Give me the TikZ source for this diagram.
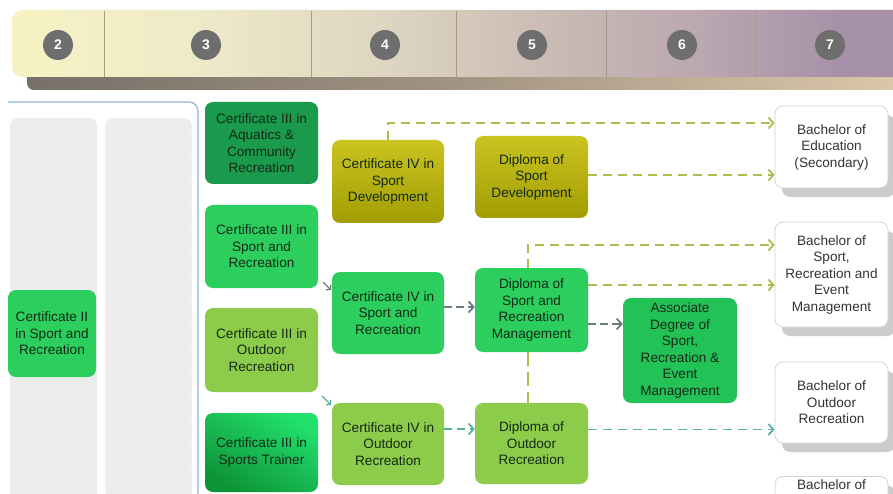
\documentclass[tikz,border=0pt]{standalone}
\usepackage{fontspec}
\setmainfont{Liberation Sans}
\usetikzlibrary{arrows.meta,shadows,patterns}
\definecolor{hA}{HTML}{F6F2C4}
\definecolor{hB}{HTML}{EEE9C8}
\definecolor{hC}{HTML}{DDD5C0}
\definecolor{hD}{HTML}{CBBCB5}
\definecolor{hE}{HTML}{BBA8B0}
\definecolor{hF}{HTML}{A690A8}
\definecolor{sA}{HTML}{767068}
\definecolor{sB}{HTML}{A39483}
\definecolor{sC}{HTML}{DCC8AA}
\definecolor{gA}{HTML}{1A9A4C}
\definecolor{gM}{HTML}{2CCF5E}
\definecolor{gL}{HTML}{8DCB4A}
\definecolor{oT}{HTML}{CAC420}
\definecolor{oB}{HTML}{A29D04}
\definecolor{gAs}{HTML}{22C256}
\definecolor{tT}{HTML}{22E06C}
\definecolor{tB}{HTML}{0E9438}
\definecolor{txt}{HTML}{142A18}
\definecolor{btxt}{HTML}{333333}
\definecolor{bdraw}{HTML}{D4D4D4}
\definecolor{dashO}{HTML}{ADBE4E}
\definecolor{dashG}{HTML}{6A7C7C}
\definecolor{dashT}{HTML}{58B2A2}
\definecolor{frame}{HTML}{8CB6D9}
\definecolor{colg}{HTML}{ECECEC}
\definecolor{divc}{HTML}{A49C84}
\definecolor{numc}{HTML}{6E6E6E}
\pgfdeclarehorizontalshading{hdrshade}{100bp}{color(0bp)=(hA); color(26bp)=(hA); color(36bp)=(hB); color(46bp)=(hC); color(54.5bp)=(hD); color(63bp)=(hE); color(71.5bp)=(hF); color(100bp)=(hF)}
\pgfdeclarehorizontalshading{bandshade}{100bp}{color(0bp)=(sA); color(25bp)=(sA); color(50bp)=(sB); color(75bp)=(sC); color(100bp)=(sC)}
\begin{document}
\begin{tikzpicture}[x=1pt,y=-1pt,
  box/.style={rounded corners=8pt, align=center, text=txt, inner sep=2pt,
    font=\fontsize{13.6}{16.5}\selectfont, minimum width=113pt},
  bach/.style={box, fill=white, draw=bdraw, line width=0.8pt, text=btxt,
    drop shadow={shadow xshift=7pt, shadow yshift=-9pt, fill=black!20, opacity=1}},
  numcirc/.style={circle, fill=numc, text=white, minimum size=30pt, inner sep=0pt,
    font=\fontsize{14}{16}\selectfont\bfseries},
  conn/.style={line width=1.8pt, dash pattern=on 9pt off 6pt},
  tip/.style={-{Straight Barb[length=5pt,width=11pt]}},
  divider/.style={draw=divc, line width=0.7pt}]
\useasboundingbox (0,0) rectangle (893,494);
\clip (0,0) rectangle (893,494);
\fill[white] (0,0) rectangle (893,494);
% header
\shade[shading=bandshade, rounded corners=7pt] (27,66) rectangle (905,90);
\shade[shading=hdrshade, rounded corners=10pt] (12,10) rectangle (910,77);
\foreach \xx in {104,311,456,606,756} \draw[divider] (\xx,11) -- (\xx,77);
\node[numcirc] (n2) at (58,45) {2};
\node[numcirc] (n3) at (206,45) {3};
\node[numcirc] (n4) at (385,45) {4};
\node[numcirc] (n5) at (532,45) {5};
\node[numcirc] (n6) at (682,45) {6};
\node[numcirc] (n7) at (830,45) {7};
% left panel
\draw[frame, line width=1.2pt, rounded corners=9pt] (8,102) -- (198,102) -- (198,520);
\fill[colg, rounded corners=8pt] (10,118) rectangle (97,520);
\fill[colg!85!white, rounded corners=8pt] (105,118) rectangle (192,520);
\fill[pattern=north east lines, pattern color=black!9] (107,122) rectangle (190,520);
% boxes
\node[box, fill=gM, minimum width=88pt, minimum height=87pt] (c2) at (52,333.5) {Certificate II\\in Sport and\\Recreation};
\node[box, fill=gA, minimum height=82pt] (a3) at (261.5,143) {Certificate III in\\Aquatics \&\\Community\\Recreation};
\node[box, fill=gM, minimum height=83pt] (s3) at (261.5,246.5) {Certificate III in\\Sport and\\Recreation};
\node[box, fill=gL, minimum height=84pt] (o3) at (261.5,350) {Certificate III in\\Outdoor\\Recreation};
\node[box, top color=tT, bottom color=tB, shading angle=-30, minimum height=79pt] (t3) at (261.5,452.5) {Certificate III in\\Sports Trainer};
\node[box, top color=oT, bottom color=oB, minimum width=112pt, minimum height=83pt] (d4) at (388,181.5) {Certificate IV in\\Sport\\Development};
\node[box, fill=gM, minimum width=112pt, minimum height=82pt] (sr4) at (388,313) {Certificate IV in\\Sport and\\Recreation};
\node[box, fill=gL, minimum width=112pt, minimum height=82pt] (o4) at (388,444) {Certificate IV in\\Outdoor\\Recreation};
\node[box, top color=oT, bottom color=oB, minimum height=82pt] (d5) at (531.5,177) {Diploma of\\Sport\\Development};
\node[box, fill=gM, minimum height=84pt] (sr5) at (531.5,310) {Diploma of\\Sport and\\Recreation\\Management};
\node[box, fill=gL, minimum height=81pt] (o5) at (531.5,443.5) {Diploma of\\Outdoor\\Recreation};
\node[box, fill=gAs, minimum width=114pt, minimum height=105pt] (ad6) at (680,350.5) {Associate\\Degree of\\Sport,\\Recreation \&\\Event\\Management};
\node[bach, minimum height=82pt] (b7e) at (831.5,147) {Bachelor of\\Education\\(Secondary)};
\node[bach, minimum height=105pt] (b7s) at (831.5,274.5) {Bachelor of\\Sport,\\Recreation and\\Event\\Management};
\node[bach, minimum height=81pt] (b7o) at (831.5,402.5) {Bachelor of\\Outdoor\\Recreation};
\node[bach, anchor=north, text height=10pt, text depth=70pt, inner ysep=3pt] (b7x) at (831.5,476) {Bachelor of};
% connectors
\coordinate (j1) at (388,123);
\draw[conn, tip, dashO] (d4.north) -- (j1) -- (j1 -| b7e.west);
\coordinate (j2) at ([yshift=2pt]d5.east);
\draw[conn, tip, dashO] (j2) -- (j2 -| b7e.west);
\coordinate (j3) at (528,245);
\draw[conn, tip, dashO] (528,268) -- (j3) -- (j3 -| b7s.west);
\coordinate (j4) at ([yshift=25pt]sr5.east);
\draw[conn, tip, dashO] (j4) -- (j4 -| b7s.west);
\coordinate (j5) at ([yshift=6pt]sr4.east);
\draw[conn, tip, dashG, dash pattern=on 8pt off 4pt] (j5) -- (j5 -| sr5.west);
\coordinate (j6) at ([yshift=-14pt]sr5.east);
\draw[conn, tip, dashG, dash pattern=on 8pt off 4pt] (j6) -- (j6 -| ad6.west);
\coordinate (j7a) at (528,352);
\coordinate (j7b) at (528,403);
\draw[conn, dashO, dash pattern=on 14pt off 6pt] (j7a) -- (j7b);
\coordinate (j8) at ([yshift=15pt]o4.east);
\draw[conn, tip, dashT, dash pattern=on 8pt off 5pt] (j8) -- (j8 -| o5.west);
\coordinate (j9) at ([yshift=14pt]o5.east);
\draw[conn, tip, dashT] (j9) -- (j9 -| b7o.west);
\coordinate (k1) at (323,282);
\coordinate (k2) at (331,290);
\draw[line width=1.2pt, dashG, -{Straight Barb[length=3pt,width=7pt]}] (k1) -- (k2);
\coordinate (k3) at (322,396);
\coordinate (k4) at (331,405);
\draw[line width=1.2pt, dashT, -{Straight Barb[length=3pt,width=7pt]}] (k3) -- (k4);
\end{tikzpicture}
\end{document}
